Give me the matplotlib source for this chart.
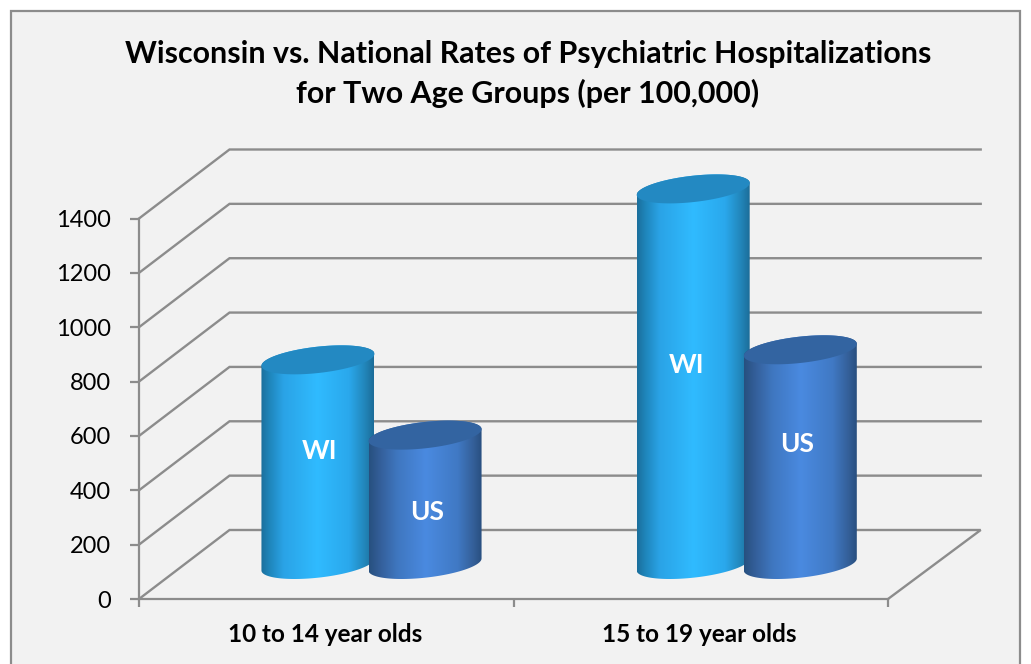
import numpy as np
import matplotlib
matplotlib.use("Agg")
import matplotlib.pyplot as plt
from matplotlib.colors import LinearSegmentedColormap
from matplotlib.patches import PathPatch, Rectangle
from matplotlib.path import Path

categories = ["10 to 14 year olds", "15 to 19 year olds"]
series_names = ["WI", "US"]
wi_values = [753, 1382]
us_values = [476, 790]
y_ticks = [0, 200, 400, 600, 800, 1000, 1200, 1400]

W, H = 1031, 664
plt.rcParams['font.family'] = ['Lato', 'DejaVu Sans']
fig = plt.figure(figsize=(W / 100, H / 100), dpi=100, facecolor='white')

# chart frame
fig.add_artist(Rectangle((11 / W, -0.02), (1020 - 11) / W, 1.02 - 11 / H, transform=fig.transFigure,
                         facecolor='#f2f2f2', edgecolor='#8c8c8c', linewidth=1.6, zorder=-1))

L, R, B, T = 139, 888, 599, 218.5
ax = fig.add_axes([L / W, 1 - B / H, (R - L) / W, (B - T) / H], zorder=2)
ax.set_xlim(0, 2)
ax.set_ylim(0, 1400)
ax.patch.set_alpha(0)
for s in ('top', 'right'):
    ax.spines[s].set_visible(False)
for s in ('left', 'bottom'):
    ax.spines[s].set_color('#8c8c8c')
    ax.spines[s].set_linewidth(1.6)

px_x = (R - L) / 2          # pixels per x unit
px_y = (B - T) / 1400       # pixels per y unit
dx_l = 90.5 / px_x
dx_r = 92.7 / px_x
dy = 69 / px_y

ax.set_yticks(y_ticks)
ax.set_xticks([0, 1, 2])
ax.set_xticklabels([])
ax.tick_params(axis='y', length=6.5, width=1.6, color='#8c8c8c', labelsize=17, pad=13.5, labelcolor='black')
ax.tick_params(axis='x', length=6, width=1.6, color='#8c8c8c')

grid = dict(color='#8c8c8c', lw=1.7, clip_on=False, zorder=1, solid_joinstyle='miter')
for v in y_ticks:
    xs = [0, dx_l, 2 + dx_r]
    ys = [v, v + dy, v + dy]
    if v == 0:
        xs.append(2)
        ys.append(0)
    ax.plot(xs, ys, **grid)

for i, c in enumerate(categories):
    ax.text(i + 0.5 - 0.003, -132, c, ha='center', va='center', fontsize=17.5, fontweight='bold', clip_on=False)

fig.text(527.8 / W, 1 - 54.5 / H, "Wisconsin vs. National Rates of Psychiatric Hospitalizations",
         ha='center', va='center', fontsize=21.9, fontweight='bold')
fig.text(527.8 / W, 1 - 93 / H, "for Two Age Groups (per 100,000)",
         ha='center', va='center', fontsize=21.9, fontweight='bold')

cmaps = {
    'WI': LinearSegmentedColormap.from_list('wi', [(0, '#1b6f9c'), (0.08, '#1f87bd'), (0.2, '#2aa3e6'),
                                                   (0.5, '#30bbff'), (0.78, '#2aa8ec'), (0.92, '#2286ba'), (1, '#1c6d99')]),
    'US': LinearSegmentedColormap.from_list('us', [(0, '#27507f'), (0.1, '#345f9a'), (0.25, '#3f77c0'),
                                                   (0.5, '#4a8ae0'), (0.78, '#4079c4'), (0.92, '#345f98'), (1, '#274d7c')]),
}
top_cols = {'WI': '#2389c2', 'US': '#3364a1'}

half_w = 56.5 / px_x
tilt = 6 / px_y
minor = 13.2 / px_y
t = np.linspace(0, 2 * np.pi, 121)


def cylinder(xc, val, name, z):
    y0 = dy / 2
    cx = xc + dx_l / 2
    grad = np.linspace(0, 1, 256).reshape(1, -1)
    tb = np.linspace(np.pi, 2 * np.pi, 80)
    bx = cx + half_w * np.cos(tb)
    by = y0 + tilt * np.cos(tb) + minor * np.sin(tb)
    ttop = np.linspace(0, np.pi, 80)
    tx = cx + half_w * np.cos(ttop)
    ty = y0 + val + tilt * np.cos(ttop) + minor * np.sin(ttop)
    verts = np.column_stack([np.r_[bx, tx], np.r_[by, ty]])
    verts = np.vstack([verts, verts[0]])
    path = Path(verts, closed=True)
    im = ax.imshow(grad, cmap=cmaps[name], extent=[cx - half_w, cx + half_w, by.min() - 1, y0 + val + 60],
                   aspect='auto', zorder=z, interpolation='bilinear')
    patch = PathPatch(path, transform=ax.transData, facecolor='none', edgecolor='none')
    ax.add_patch(patch)
    im.set_clip_path(patch)
    im.set_clip_box(fig.bbox)
    top = np.column_stack([cx + half_w * np.cos(t), y0 + val + tilt * np.cos(t) + minor * np.sin(t)])
    ax.add_patch(PathPatch(Path(top, closed=True), facecolor=top_cols[name], edgecolor='none',
                           zorder=z + 0.1, clip_on=False))
    return cx


offset = 0.143
group_shift = [0, 0.002]
# label nudges in pixels: (right, up)
wi_nudge = [(1.5, 11), (-7, 12)]
us_nudge = [(2.5, -12), (-3, 13)]
for i in range(2):
    cx = cylinder(i + 0.5 - offset + group_shift[i], wi_values[i], 'WI', 3)
    ax.annotate('WI', (cx, dy / 2 + wi_values[i] / 2), xytext=wi_nudge[i], textcoords='offset pixels',
                color='white', ha='center', va='center', fontsize=19, fontweight='bold', zorder=6,
                annotation_clip=False)
    cx = cylinder(i + 0.5 + offset + group_shift[i], us_values[i], 'US', 4)
    ax.annotate('US', (cx, dy / 2 + us_values[i] / 2), xytext=us_nudge[i], textcoords='offset pixels',
                color='white', ha='center', va='center', fontsize=19, fontweight='bold', zorder=6,
                annotation_clip=False)

ax.set_xlim(0, 2)
ax.set_ylim(0, 1400)
fig.savefig('out.png', dpi=100, facecolor='white')
